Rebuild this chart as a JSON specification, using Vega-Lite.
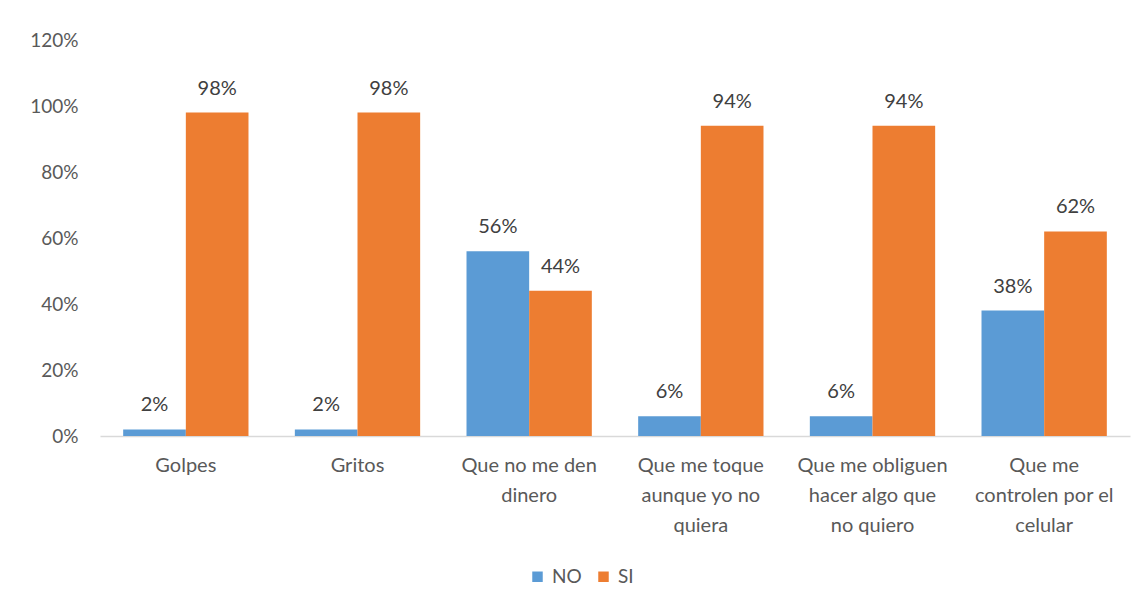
{
  "$schema": "https://vega.github.io/schema/vega-lite/v6.json",
  "autosize": "none",
  "width": 1030,
  "height": 396,
  "padding": {"left": 100, "top": 40, "right": 17, "bottom": 176},
  "background": "white",
  "config": {
    "view": {"stroke": null},
    "font": "Lato"
  },
  "data": {
    "values": [
      {"cat": "Golpes", "serie": "NO", "val": 0.02},
      {"cat": "Golpes", "serie": "SI", "val": 0.98},
      {"cat": "Gritos", "serie": "NO", "val": 0.02},
      {"cat": "Gritos", "serie": "SI", "val": 0.98},
      {"cat": "Que no me den|dinero", "serie": "NO", "val": 0.56},
      {"cat": "Que no me den|dinero", "serie": "SI", "val": 0.44},
      {"cat": "Que me toque|aunque yo no|quiera", "serie": "NO", "val": 0.06},
      {"cat": "Que me toque|aunque yo no|quiera", "serie": "SI", "val": 0.94},
      {"cat": "Que me obliguen|hacer algo que|no quiero", "serie": "NO", "val": 0.06},
      {"cat": "Que me obliguen|hacer algo que|no quiero", "serie": "SI", "val": 0.94},
      {"cat": "Que me|controlen por el|celular", "serie": "NO", "val": 0.38},
      {"cat": "Que me|controlen por el|celular", "serie": "SI", "val": 0.62}
    ]
  },
  "encoding": {
    "x": {
      "field": "cat",
      "type": "nominal",
      "sort": null,
      "scale": {"paddingInner": 0.27, "paddingOuter": 0.135},
      "axis": {
        "title": null,
        "labelAngle": 0,
        "labelExpr": "split(datum.label, '|')",
        "labelFont": "Lato",
        "labelFontSize": 20,
        "labelColor": "#595959",
        "labelLineHeight": 30,
        "labelPadding": 19,
        "ticks": false,
        "domainColor": "#D9D9D9",
        "domainWidth": 1.5,
        "labelLimit": 200
      }
    },
    "xOffset": {"field": "serie", "type": "nominal", "sort": ["NO", "SI"]},
    "y": {
      "field": "val",
      "type": "quantitative",
      "scale": {"domain": [0, 1.2], "nice": false},
      "axis": {
        "title": null,
        "format": ".0%",
        "values": [0, 0.2, 0.4, 0.6, 0.8, 1.0, 1.2],
        "grid": false,
        "domain": false,
        "ticks": false,
        "labelFont": "Lato",
        "labelFontSize": 19,
        "labelColor": "#595959",
        "labelPadding": 22
      }
    }
  },
  "layer": [
    {
      "mark": {"type": "bar"},
      "encoding": {
        "color": {
          "field": "serie",
          "type": "nominal",
          "scale": {"domain": ["NO", "SI"], "range": ["#5B9BD5", "#ED7D31"]},
          "legend": {
            "title": null,
            "orient": "none",
            "legendX": 428,
            "legendY": 527,
            "direction": "horizontal",
            "symbolType": "square",
            "symbolSize": 110,
            "symbolStrokeWidth": 0,
            "labelFont": "Lato",
            "labelFontSize": 19,
            "labelColor": "#595959",
            "columnPadding": 12,
            "labelOffset": 5
          }
        }
      }
    },
    {
      "mark": {"type": "text", "baseline": "bottom", "dy": -14, "fontSize": 20, "color": "#404040", "font": "Lato"},
      "encoding": {
        "text": {"field": "val", "type": "quantitative", "format": ".0%"}
      }
    }
  ]
}
